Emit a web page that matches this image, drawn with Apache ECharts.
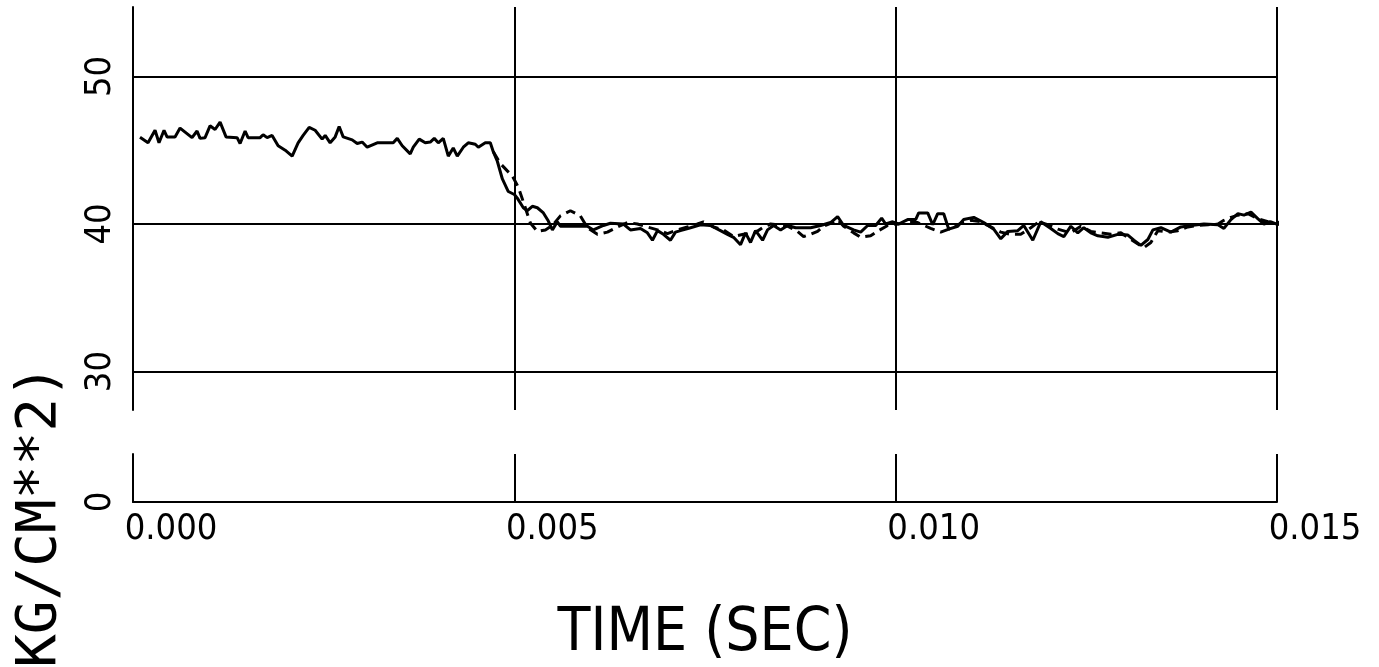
<!DOCTYPE html>
<html>
<head>
<meta charset="utf-8">
<script src="https://cdn.jsdelivr.net/npm/echarts@6/dist/echarts.min.js"></script>
<style>
  html, body { margin: 0; padding: 0; background: #fff; }
  #chart { width: 1379px; height: 667px; }
</style>
</head>
<body>
<div id="chart"></div>
<script>
// Pressure trace (KG/CM**2) against time (s); solid = measured, dashed = second trace
const solidTime = [
  0.092, 0.197, 0.289, 0.341, 0.407, 0.446, 0.551, 0.617, 0.774, 0.840, 0.879, 0.945,
  1.010, 1.076, 1.142, 1.220, 1.365, 1.404, 1.470, 1.509, 1.667, 1.706, 1.759, 1.824,
  1.903, 1.995, 2.087, 2.165, 2.231, 2.310, 2.388, 2.480, 2.520, 2.585, 2.651, 2.703,
  2.756, 2.874, 2.940, 3.005, 3.071, 3.202, 3.412, 3.465, 3.530, 3.635, 3.675, 3.753,
  3.832, 3.898, 3.950, 4.003, 4.068, 4.134, 4.199, 4.252, 4.331, 4.396, 4.488, 4.528,
  4.619, 4.685, 4.724, 4.777, 4.843, 4.921, 5.000, 5.039, 5.118, 5.171, 5.236, 5.302,
  5.381, 5.446, 5.499, 5.564, 5.604, 5.696, 5.958, 6.037, 6.168, 6.260, 6.430, 6.522,
  6.654, 6.745, 6.811, 6.877, 6.955, 7.047, 7.113, 7.178, 7.310, 7.441, 7.572, 7.703,
  7.795, 7.874, 7.966, 8.031, 8.097, 8.163, 8.255, 8.320, 8.399, 8.491, 8.583, 8.688,
  8.885, 9.016, 9.147, 9.239, 9.318, 9.449, 9.541, 9.633, 9.738, 9.816, 9.869, 9.961,
  10.039, 10.157, 10.262, 10.302, 10.420, 10.486, 10.551, 10.630, 10.696, 10.814, 10.892, 11.024,
  11.155, 11.286, 11.378, 11.470, 11.601, 11.680, 11.798, 11.903, 12.034, 12.126, 12.205, 12.297,
  12.388, 12.467, 12.559, 12.651, 12.782, 12.913, 13.045, 13.123, 13.215, 13.307, 13.373, 13.478,
  13.609, 13.740, 13.871, 14.042, 14.226, 14.304, 14.396, 14.488, 14.567, 14.659, 14.751, 14.829,
  14.921, 15.013, 15.092, 15.184, 15.289
];
const solidValue = [
  45.87, 45.5, 46.35, 45.5, 46.35, 45.9, 45.9, 46.5, 45.85, 46.3, 45.8, 45.85,
  46.65, 46.4, 46.9, 45.9, 45.85, 45.45, 46.3, 45.85, 45.85, 46.05, 45.85, 46.0,
  45.3, 45.0, 44.6, 45.5, 46.0, 46.55, 46.35, 45.75, 46.0, 45.5, 45.9, 46.6,
  45.9, 45.7, 45.45, 45.55, 45.2, 45.5, 45.5, 45.8, 45.3, 44.75, 45.2, 45.75,
  45.5, 45.55, 45.8, 45.5, 45.8, 44.6, 45.15, 44.6, 45.2, 45.5, 45.4, 45.2,
  45.5, 45.5, 44.9, 44.25, 43.05, 42.2, 42.0, 41.75, 41.1, 40.9, 41.2, 41.1,
  40.75, 40.2, 39.6, 40.15, 39.85, 39.85, 39.85, 39.6, 39.9, 40.05, 40.0, 39.6,
  39.7, 39.4, 38.9, 39.55, 39.3, 38.9, 39.45, 39.55, 39.75, 39.95, 39.9, 39.55,
  39.3, 39.1, 38.6, 39.4, 38.75, 39.55, 38.9, 39.6, 39.9, 39.6, 39.9, 39.75,
  39.75, 39.9, 40.1, 40.5, 39.9, 39.6, 39.45, 39.9, 39.9, 40.4, 40.0, 40.15,
  40.0, 40.3, 40.3, 40.75, 40.75, 39.95, 40.7, 40.7, 39.65, 39.85, 40.3, 40.45,
  40.1, 39.65, 39.0, 39.5, 39.55, 39.9, 38.9, 40.15, 39.7, 39.35, 39.15, 39.85,
  39.4, 39.75, 39.4, 39.2, 39.1, 39.3, 39.25, 38.9, 38.55, 38.95, 39.6, 39.75,
  39.45, 39.8, 39.9, 40.0, 39.95, 39.7, 40.3, 40.7, 40.6, 40.8, 40.35, 40.0,
  40.15, 39.95, 40.5, 40.05, 39.85
];
const dashTime = [
  4.724, 4.816, 4.908, 4.974, 5.052, 5.118, 5.210, 5.302, 5.407, 5.499, 5.604, 5.735,
  5.866, 5.958, 6.089, 6.220, 6.352, 6.483, 6.614, 6.745, 6.877, 7.008, 7.139, 7.270,
  7.402, 7.480, 7.612, 7.743, 7.874, 8.005, 8.136, 8.268, 8.360, 8.451, 8.583, 8.714,
  8.793, 8.885, 8.976, 9.055, 9.147, 9.239, 9.318, 9.449, 9.541, 9.672, 9.777, 9.895,
  10.026, 10.157, 10.289, 10.459, 10.591, 10.722, 10.853, 10.984, 11.115, 11.247, 11.378, 11.509,
  11.640, 11.772, 11.877, 11.995, 12.126, 12.297, 12.428, 12.559, 12.690, 12.822, 12.953, 13.084,
  13.176, 13.255, 13.346, 13.438, 13.570, 13.701, 13.832, 13.963, 14.094, 14.226, 14.304, 14.396,
  14.488, 14.619, 14.751, 14.882, 15.013, 15.092, 15.184, 15.276
];
const dashValue = [
  44.9, 44.1, 43.6, 43.25, 42.5, 41.5, 40.07, 39.5, 39.6, 39.9, 40.55, 40.9,
  40.55, 39.75, 39.3, 39.45, 39.8, 40.1, 40.0, 39.8, 39.6, 39.35, 39.6, 39.8,
  40.0, 40.15, 39.8, 39.6, 39.15, 39.3, 39.35, 39.8, 40.0, 39.95, 39.85, 39.5,
  39.15, 39.3, 39.5, 39.85, 40.05, 40.3, 39.85, 39.4, 39.1, 39.2, 39.55, 39.9,
  40.0, 40.1, 40.1, 39.7, 39.45, 39.7, 40.05, 40.25, 40.15, 39.8, 39.45, 39.3,
  39.3, 39.75, 40.15, 39.95, 39.65, 39.4, 39.85, 39.5, 39.4, 39.3, 39.4, 38.95,
  38.65, 38.4, 38.75, 39.55, 39.45, 39.55, 39.8, 39.9, 39.95, 40.0, 40.25, 40.45,
  40.6, 40.7, 40.35, 40.15, 40.05, 40.4, 40.15, 39.95
];
const upperTicks = [30, 40, 50];
const yAxisTitle = '(KG/CM**2)';
const xAxisTitle = 'TIME (SEC)';

const FONT = '"Liberation Sans Narrow", "DejaVu Sans Condensed", "DejaVu Sans Mono", sans-serif';
const TITLE_FONT = '"DejaVu Sans Mono", "Liberation Mono", monospace';
const INK = '#000';

const toPairs = (ts, vs) => ts.map((t, i) => [t / 1000, vs[i]]);

const chart = echarts.init(document.getElementById('chart'));
chart.setOption({
  backgroundColor: '#fff',
  animation: false,
  grid: [
    { left: 133, right: 102, top: 7, bottom: 257 },
    { left: 133, right: 102, top: 454, bottom: 165 }
  ],
  xAxis: [
    {
      gridIndex: 0, type: 'value', min: 0, max: 0.015, interval: 0.005,
      axisLine: { show: false }, axisTick: { show: false }, axisLabel: { show: false },
      splitLine: { show: true, lineStyle: { color: INK, width: 2 } }
    },
    {
      gridIndex: 1, type: 'value', min: 0, max: 0.015, interval: 0.005,
      axisLine: { show: true, onZero: false, lineStyle: { color: INK, width: 2 } },
      axisTick: { show: false },
      splitLine: { show: true, lineStyle: { color: INK, width: 2 } },
      axisLabel: {
        show: true, color: INK, fontFamily: FONT, fontSize: 36,
        margin: 10, align: 'center', padding: [0, 0, 0, 76],
        showMinLabel: true, showMaxLabel: true,
        formatter: v => v.toFixed(3)
      },
      name: xAxisTitle, nameLocation: 'middle', nameGap: 102,
      nameTextStyle: { color: INK, fontFamily: FONT, fontSize: 60 }
    }
  ],
  yAxis: [
    {
      gridIndex: 0, type: 'value', min: 27.4, max: 54.7,
      axisLine: { show: true, lineStyle: { color: INK, width: 2 } },
      axisTick: { show: false, customValues: upperTicks },
      axisLabel: {
        show: true, customValues: upperTicks, rotate: 90, margin: 14,
        color: INK, fontFamily: FONT, fontSize: 36
      },
      splitLine: { show: true, lineStyle: { color: INK, width: 2 } }
    },
    {
      gridIndex: 1, type: 'value', min: 0, max: 1, interval: 1,
      axisLine: { show: true, lineStyle: { color: INK, width: 2 } },
      axisTick: { show: false },
      axisLabel: {
        show: true, rotate: 90, margin: 14, color: INK, fontFamily: FONT, fontSize: 36,
        formatter: v => (v === 0 ? '0' : '')
      },
      splitLine: { show: false }
    }
  ],
  graphic: [
    {
      type: 'text', x: 40, y: 533, rotation: Math.PI / 2,
      style: {
        text: yAxisTitle, fill: INK, font: '56px ' + TITLE_FONT,
        align: 'center', verticalAlign: 'middle'
      }
    }
  ],
  series: [
    {
      type: 'line', xAxisIndex: 0, yAxisIndex: 0, data: toPairs(solidTime, solidValue),
      symbol: 'none', clip: false,
      lineStyle: { color: INK, width: 3, type: 'solid' }
    },
    {
      type: 'line', xAxisIndex: 0, yAxisIndex: 0, data: toPairs(dashTime, dashValue),
      symbol: 'none', clip: false,
      lineStyle: { color: INK, width: 3, type: [10, 6] }
    }
  ]
});
</script>
</body>
</html>
